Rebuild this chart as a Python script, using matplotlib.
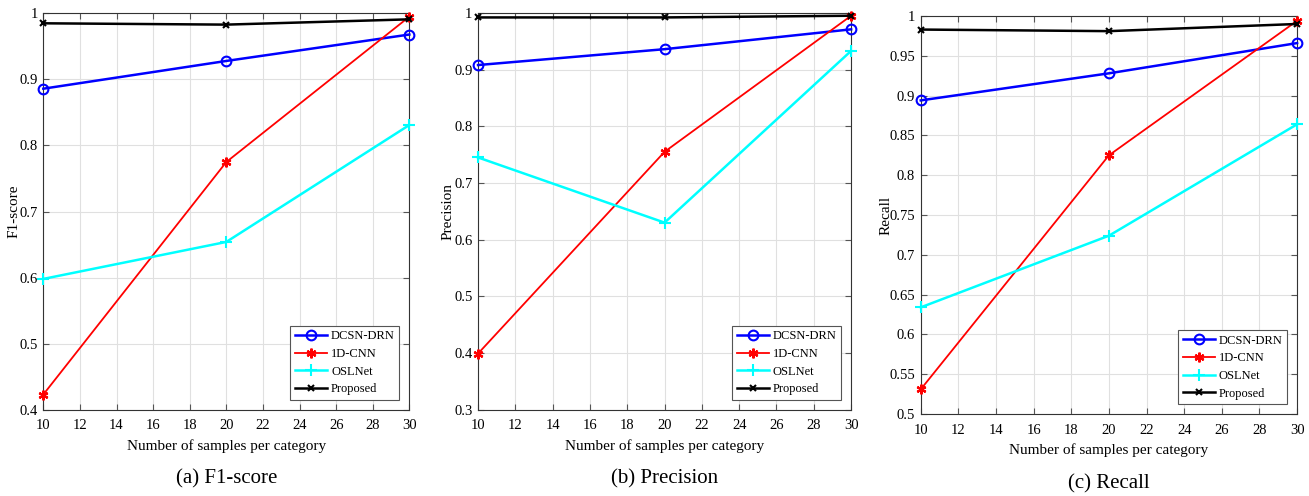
import matplotlib
matplotlib.use('Agg')
import matplotlib.pyplot as plt

# ------------- DATA ------------- #
samples = [10, 20, 30]
methods = ['DCSN-DRN', '1D-CNN', 'OSLNet', 'Proposed']

f1_dcsn = [0.886, 0.928, 0.968]
f1_cnn = [0.423, 0.775, 0.995]
f1_osl = [0.598, 0.654, 0.831]
f1_prop = [0.985, 0.983, 0.991]

prec_dcsn = [0.908, 0.936, 0.971]
prec_cnn = [0.399, 0.755, 0.995]
prec_osl = [0.745, 0.630, 0.933]
prec_prop = [0.992, 0.992, 0.995]

rec_dcsn = [0.894, 0.928, 0.966]
rec_cnn = [0.531, 0.825, 0.994]
rec_osl = [0.634, 0.724, 0.864]
rec_prop = [0.983, 0.981, 0.990]

# ------------- STYLE ------------- #
plt.rcParams['font.family'] = ['Liberation Serif', 'DejaVu Serif']
styles = [
    dict(color='#0000ff', marker='o', markersize=7, markerfacecolor='none', markeredgewidth=1.5, linewidth=1.8),
    dict(color='#ff0000', marker=(6, 2, 0), markersize=7, markeredgewidth=1.6, linewidth=1.3),
    dict(color='#00ffff', marker='+', markersize=8, markeredgewidth=1.5, linewidth=1.8),
    dict(color='black', marker='x', markersize=5, markeredgewidth=1.5, linewidth=1.8),
]

# rect, series, ylabel, ylim, yticks, caption, ylabel x (axes coords)
panels = [
    ([0.0331, 0.174, 0.2796, 0.799], [f1_dcsn, f1_cnn, f1_osl, f1_prop], 'F1-score',
     (0.4, 1.0), [0.4, 0.5, 0.6, 0.7, 0.8, 0.9, 1.0], '(a) F1-score', -0.061),
    ([0.3652, 0.174, 0.2850, 0.800], [prec_dcsn, prec_cnn, prec_osl, prec_prop], 'Precision',
     (0.3, 1.0), [0.3, 0.4, 0.5, 0.6, 0.7, 0.8, 0.9, 1.0], '(b) Precision', -0.064),
    ([0.7034, 0.1653, 0.2875, 0.8024], [rec_dcsn, rec_cnn, rec_osl, rec_prop], 'Recall',
     (0.5, 1.0), [0.5, 0.55, 0.6, 0.65, 0.7, 0.75, 0.8, 0.85, 0.9, 0.95, 1.0], '(c) Recall', -0.076),
]

fig = plt.figure(figsize=(13.09, 4.96), dpi=100)

for rect, series, ylabel, ylim, yticks, caption, ylx in panels:
    ax = fig.add_axes(rect)
    for vals, name, st in zip(series, methods, styles):
        ax.plot(samples, vals, label=name, clip_on=False, zorder=3, **st)
    ax.set_xlim(10, 30)
    ax.set_ylim(*ylim)
    ax.set_xticks(range(10, 31, 2))
    ax.set_yticks(yticks)
    ax.set_yticklabels(['%g' % t for t in yticks])
    ax.grid(True, color='#e0e0e0', linewidth=0.8)
    ax.set_axisbelow(True)
    ax.tick_params(direction='in', top=True, right=True, labelsize=10.5, length=4,
                   color='#555555')
    ax.tick_params(axis='x', pad=7)
    ax.tick_params(axis='y', pad=4)
    for sp in ax.spines.values():
        sp.set_color('#333333')
        sp.set_linewidth(0.8)
    ax.set_ylabel(ylabel, fontsize=11)
    ax.yaxis.set_label_coords(ylx, 0.5)
    ax.set_xlabel('Number of samples per category', fontsize=11, labelpad=5)
    ax.text(0.5, -0.175, caption, transform=ax.transAxes, ha='center', va='center', fontsize=15)
    leg = ax.legend(loc='lower right', fontsize=9, fancybox=False, framealpha=1,
                    edgecolor='#555555', handlelength=2.6, borderpad=0.35,
                    labelspacing=0.45, borderaxespad=0.8, handletextpad=0.3)
    leg.get_frame().set_linewidth(0.8)

plt.savefig('out.png', dpi=100)
